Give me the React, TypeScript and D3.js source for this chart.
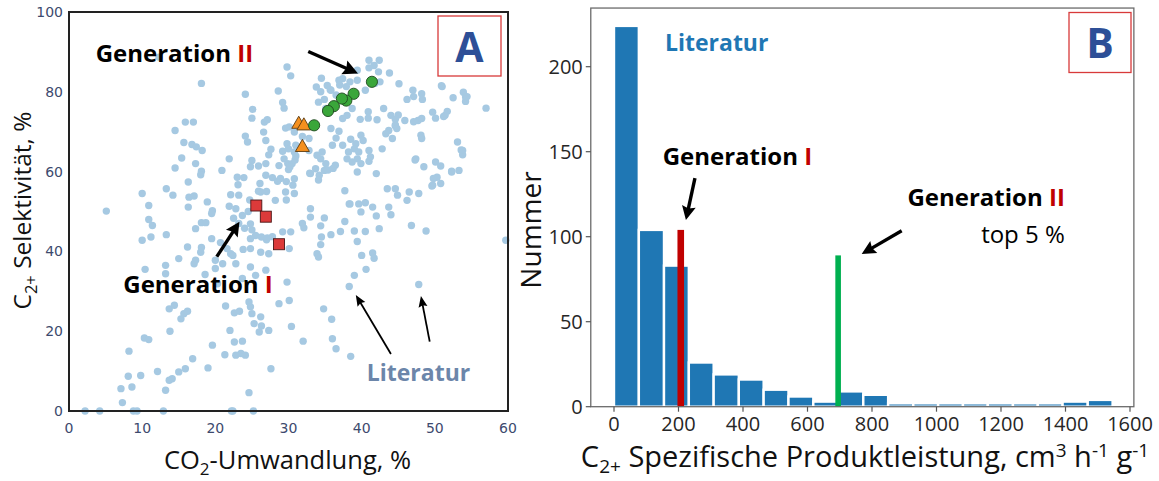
import React from "react";
import * as d3 from "d3";

// ---------------- Panel A data ----------------
const litPoints: [number, number][] = [
  [18.1,82.1],[24.1,79.4],[28.6,80.2],[25.1,75.6],[25.0,73.4],[26.7,72.4],[27.1,73.0],[29.2,77.3],[29.4,75.9],[29.8,86.2],
  [15.9,72.4],[17.0,72.4],[14.5,70.3],[24.1,68.9],[24.4,67.4],[26.6,69.9],[26.9,67.8],[15.7,67.3],[16.8,66.8],[17.4,66.2],
  [18.2,65.3],[15.4,63.4],[17.3,62.0],[18.1,60.1],[18.0,59.2],[14.5,60.9],[20.9,60.3],[21.9,63.2],[25.0,62.8],[24.8,61.2],
  [25.9,61.4],[26.9,62.0],[27.6,65.6],[27.3,64.2],[29.2,65.1],[29.4,63.2],[28.7,61.5],[23.0,58.6],[23.9,58.5],[23.1,56.7],
  [26.1,57.0],[27.8,58.5],[28.5,57.6],[28.9,58.3],[16.3,57.4],[13.3,55.7],[14.2,54.1],[10.0,54.5],[10.9,51.5],[16.4,53.6],
  [17.1,53.9],[18.9,52.4],[22.1,54.2],[23.2,54.1],[26.2,54.9],[28.2,52.8],[29.6,54.9],[16.3,51.1],[19.6,50.2],[21.9,51.3],
  [22.8,50.7],[5.1,50.1],[12.3,88.7],[29.6,70.9],[29.8,67.0],[30.0,65.7],[29.9,62.0],[30.0,60.5],
  [41.0,87.9],[42.4,87.9],[41.7,86.6],[41.0,86.0],[42.3,85.0],[39.4,85.4],[43.8,84.7],[45.1,82.0],[39.4,82.9],[37.4,83.3],
  [36.9,82.9],[40.5,80.4],[33.8,81.2],[34.4,80.0],[35.3,81.6],[35.8,80.4],[36.5,79.2],[34.1,77.4],[34.9,78.1],[35.1,75.8],
  [47.0,80.4],[48.2,79.5],[48.3,78.1],[46.2,78.1],[50.9,81.5],[52.5,78.5],[53.9,79.9],[54.2,78.7],[54.2,77.6],[57.0,75.9],
  [40.9,75.0],[40.9,73.4],[42.1,73.0],[43.0,75.8],[44.0,74.1],[44.6,73.1],[45.9,72.8],[47.7,72.8],[48.2,73.3],[49.7,74.9],
  [50.1,73.4],[51.4,74.1],[51.7,75.1],[39.8,73.1],[38.0,74.1],[38.7,75.8],[37.4,73.3],[36.9,70.1],[35.8,70.8],[36.5,68.4],
  [38.5,68.1],[39.9,69.1],[40.2,67.8],[43.3,69.5],[43.7,70.3],[44.6,71.7],[44.2,68.3],[48.1,69.1],[48.2,68.3],[53.1,67.4],
  [53.8,65.3],[53.8,64.2],[39.2,67.0],[39.0,65.7],[38.2,64.9],[39.6,64.9],[41.0,65.3],[42.8,65.7],[38.0,63.2],[39.4,63.2],
  [39.9,62.0],[41.0,62.6],[41.2,63.7],[38.7,62.4],[36.0,66.6],[34.6,64.9],[33.9,64.1],[34.4,63.2],[31.0,63.9],[30.5,62.0],
  [33.7,60.7],[33.0,59.5],[34.2,59.1],[34.9,60.3],[35.1,62.0],[36.4,61.6],[42.0,59.5],[39.4,59.9],[47.4,63.2],[48.5,61.2],
  [50.1,62.4],[50.8,61.4],[52.3,60.1],[53.3,60.3],[50.3,58.6],[49.7,56.6],[50.8,57.0],[43.5,55.7],[44.6,55.7],[44.9,54.1],
  [46.5,54.9],[47.8,54.5],[46.2,52.8],[43.7,51.1],[38.3,51.9],[39.6,51.9],[40.5,52.2],[41.5,51.1],[33.0,50.7],[30.8,54.5],
  [30.8,58.2],[30.3,84.0],[37.4,66.6],[30.1,71.2],[30.8,69.9],[32.8,68.3],[31.9,68.8],[31.0,66.6],[30.8,64.9],[32.8,65.3],
  [37.7,55.2],[38.4,51.9],
  [26.9,59.1],[29.7,57.5],[30.2,61.2],[30.9,62.9],[30.6,56.6],[29.7,52.9],[32.9,59.6],[34.1,57.9],[35.4,60.4],[36.1,60.8],
  [27.0,55.0],[25.9,55.1],[24.7,52.9],[24.5,50.0],[22.5,48.3],[23.2,47.0],[24.0,45.8],[25.0,45.4],[27.8,43.7],[27.0,42.9],
  [37.0,81.7],[38.4,82.5],[34.5,83.4],[35.7,80.5],[37.9,81.3],[41.8,82.1],[42.5,82.5],[45.0,74.2],[44.6,71.4],[44.8,70.8],
  [47.1,72.5],[51.2,73.8],[47.3,62.9],[49.8,58.3],[49.6,56.4],[52.3,59.9],[53.6,65.4],[47.1,78.8],[51.0,81.3],[54.4,78.8],
  [10.9,48.0],[11.4,46.5],[10.0,42.8],[11.2,43.6],[13.3,44.2],[17.3,45.7],[18.1,47.2],[18.7,47.2],[19.5,49.5],[16.2,41.1],
  [18.1,41.0],[18.0,39.8],[19.5,43.2],[20.7,42.2],[21.6,40.7],[22.1,39.4],[22.4,39.0],[23.8,40.5],[24.8,43.2],[25.5,44.0],
  [26.3,43.6],[27.1,43.4],[24.8,40.7],[26.2,39.8],[27.3,39.4],[15.0,38.2],[17.3,37.8],[17.1,36.9],[13.2,36.5],[13.2,34.4],
  [10.4,35.5],[20.0,37.8],[21.0,36.9],[20.0,35.7],[22.8,36.9],[24.8,36.1],[26.9,35.3],[18.6,34.2],[20.3,31.9],[23.7,33.2],
  [25.5,34.0],[29.8,32.3],[21.4,26.3],[22.6,24.6],[23.3,25.0],[24.6,27.3],[24.8,26.1],[25.0,24.4],[26.2,23.6],[25.3,21.9],
  [26.3,21.3],[26.0,19.8],[27.3,20.2],[28.7,26.9],[13.7,25.6],[14.4,26.5],[15.3,23.1],[15.7,24.4],[16.2,25.0],[13.8,20.0],
  [10.3,18.3],[10.9,17.9],[8.2,15.0],[19.6,16.5],[22.0,20.2],[22.6,17.3],[23.7,17.5],[21.3,14.1],[22.8,14.0],[23.5,14.4],
  [24.1,14.0],[16.9,13.1],[15.9,10.6],[19.0,10.8],[15.0,9.8],[14.1,8.1],[13.7,7.7],[12.1,9.9],[9.8,8.9],[8.1,8.7],
  [8.6,6.0],[7.1,5.6],[7.3,2.1],[13.2,5.2],[24.6,4.6],[27.6,10.6],[23.7,49.0],[24.8,46.9],[29.2,44.9],
  [2.2,0],[4.2,0],[8.8,0],[9.3,0],[12.9,0],[22.2,0],[22.4,0],[25.2,0],
  [33.0,48.6],[31.9,47.0],[32.1,45.9],[34.9,48.4],[34.4,46.4],[37.7,47.5],[39.9,49.9],[42.0,48.9],[44.0,49.2],[39.0,45.1],
  [40.5,45.0],[37.1,45.0],[35.8,44.2],[34.5,43.6],[42.4,45.7],[46.8,46.5],[48.8,45.1],[39.4,42.5],[34.4,41.7],[30.3,44.9],
  [30.1,40.7],[33.9,39.4],[34.1,38.6],[40.0,39.0],[41.5,39.6],[41.7,38.3],[40.6,35.5],[39.0,34.0],[38.3,31.2],[47.8,31.7],
  [34.8,25.6],[35.9,23.0],[30.4,21.2],[32.0,17.5],[36.0,18.1],[36.5,15.6],[38.5,13.7],[59.7,42.8],[30.1,27.7]
];
const gen2Points: [number, number][] = [
  [41.4,82.5],[38.9,79.5],[37.9,77.8],[37.3,78.3],[36.2,76.4],[35.4,75.2],[33.5,71.6]
];
const triPoints: [number, number][] = [[31.4,72.0],[32.1,71.6],[31.9,66.2]];
const gen1Points: [number, number][] = [[25.6,51.5],[26.9,48.7],[28.7,41.8]];
const xTicksA = [0, 10, 20, 30, 40, 50, 60];
const yTicksA = [0, 20, 40, 60, 80, 100];

// ---------------- Panel B data ----------------
const binEdges = [0,77,155,232,309,387,464,541,618,696,773,850,928,1005,1082,1159,1237,1314,1391,1469,1546];
const binCounts = [224,104,83,26,19,16,10,6,3,9,7,2,2,2,2,2,2,2,3,4];
const gen1Value = 207, gen1Height = 104;
const gen2Value = 695, gen2Height = 89;
const xTicksB = [0,200,400,600,800,1000,1200,1400,1600];
const yTicksB = [0,50,100,150,200];

const FONT = "'Open Sans', 'Noto Sans', sans-serif";

function Arrow({ x1, y1, x2, y2, w, hl, hw, color = "#000" }:
  { x1: number; y1: number; x2: number; y2: number; w: number; hl: number; hw: number; color?: string }) {
  const dx = x2 - x1, dy = y2 - y1;
  const L = Math.hypot(dx, dy);
  const ux = dx / L, uy = dy / L;
  const bx = x2 - ux * hl, by = y2 - uy * hl;
  const px = -uy, py = ux;
  const pts = [
    [x2, y2],
    [bx + px * hw / 2, by + py * hw / 2],
    [bx + ux * hl * 0.15, by + uy * hl * 0.15],
    [bx - px * hw / 2, by - py * hw / 2],
  ];
  return (
    <g>
      <line x1={x1} y1={y1} x2={bx + ux * hl * 0.3} y2={by + uy * hl * 0.3} stroke={color} strokeWidth={w} />
      <polygon points={pts.map(p => p.join(",")).join(" ")} fill={color} />
    </g>
  );
}

export default function App() {
  // Panel A scales
  const xA = d3.scaleLinear().domain([0, 60]).range([69, 508]);
  const yA = d3.scaleLinear().domain([0, 100]).range([411, 12]);
  // Panel B scales
  const xB = d3.scaleLinear().domain([0, 1600]).range([614, 1130]);
  const yB = d3.scaleLinear().domain([0, 200]).range([406.7, 66.7]);
  const bLeft = xB(-72), bRight = xB(1612), bTop = yB(234.5), bBottom = yB(0);

  const tri = (cx: number, cy: number, s: number) => {
    const h = s * 0.866;
    return `${cx},${cy - h * 0.62} ${cx - s / 2},${cy + h * 0.38} ${cx + s / 2},${cy + h * 0.38}`;
  };

  return (
    <svg width={1159} height={481} style={{ position: "absolute", left: 0, top: 0, background: "#fff" }} fontFamily={FONT}>
      <rect x={0} y={0} width={1159} height={481} fill="#fff" />
      {/* ================= Panel A ================= */}
      <g>
        {litPoints.map((p, i) => (
          <circle key={"l" + i} cx={xA(p[0])} cy={yA(p[1])} r={3.7} fill="#a6c9e2" />
        ))}
        {gen1Points.map((p, i) => (
          <rect key={"s" + i} x={xA(p[0]) - 5.5} y={yA(p[1]) - 5.5} width={11} height={11} fill="#dc3a3a" stroke="#4a1515" strokeWidth={0.9} />
        ))}
        {triPoints.map((p, i) => (
          <polygon key={"t" + i} points={tri(xA(p[0]), yA(p[1]), 14)} fill="#f5901e" stroke="#5a3a10" strokeWidth={0.9} />
        ))}
        {gen2Points.map((p, i) => (
          <circle key={"g" + i} cx={xA(p[0])} cy={yA(p[1])} r={5.6} fill="#3aa63a" stroke="#1f4a1f" strokeWidth={0.9} />
        ))}
        <rect x={xA(0)} y={yA(100)} width={xA(60) - xA(0)} height={yA(0) - yA(100)} fill="none" stroke="#222" strokeWidth={2} />
        {xTicksA.map(t => (
          <text key={"xa" + t} x={xA(t)} y={433} textAnchor="middle" fontFamily="'DejaVu Sans', sans-serif" fontSize={14} fill="#3d4a6e">{t}</text>
        ))}
        {yTicksA.map(t => (
          <text key={"ya" + t} x={63} y={yA(t) + 5} textAnchor="end" fontFamily="'DejaVu Sans', sans-serif" fontSize={14} fill="#3d4a6e">{t}</text>
        ))}
        <text x={xA(30) - 1} y={469} textAnchor="middle" fontSize={25.5} fill="#111">
          CO<tspan fontSize={17} dy={6}>2</tspan><tspan dy={-6}>-Umwandlung, %</tspan>
        </text>
        <text transform={`translate(31,${yA(50) - 1}) rotate(-90)`} textAnchor="middle" fontSize={24.5} fill="#111">
          C<tspan fontSize={16.5} dy={6}>2+</tspan><tspan dy={-6}> Selektivität, %</tspan>
        </text>
        {/* A label box */}
        <rect x={438} y={16} width={63} height={60} fill="none" stroke="#d83a3a" strokeWidth={1.3} />
        <text x={469.5} y={62} textAnchor="middle" fontSize={41} fontWeight={700} fill="#2d4f97">A</text>
        {/* annotations */}
        <text x={xA(3.65)} y={yA(87.5)} fontSize={24} fontWeight={700} fill="#000">Generation <tspan fill="#c00000">II</tspan></text>
        <text x={xA(7.42)} y={yA(29.5)} fontSize={24} fontWeight={700} fill="#000">Generation <tspan fill="#c00000">I</tspan></text>
        <text x={xA(40.7)} y={yA(7.5)} fontSize={23} fontWeight={700} fill="#6c86aa">Literatur</text>
        <Arrow x1={xA(32.7)} y1={yA(90.1)} x2={xA(39.5)} y2={yA(84.6)} w={3.4} hl={15} hw={15} />
        <Arrow x1={xA(20.2)} y1={yA(38.7)} x2={xA(23.3)} y2={yA(47.4)} w={3.4} hl={14} hw={14} />
        <Arrow x1={xA(44.0)} y1={yA(14.3)} x2={xA(39.2)} y2={yA(29.1)} w={1.8} hl={11} hw={9} />
        <Arrow x1={xA(49.3)} y1={yA(17.4)} x2={xA(48.1)} y2={yA(28.8)} w={1.8} hl={11} hw={9} />
      </g>

      {/* ================= Panel B ================= */}
      <g>
        {binCounts.map((c, i) => (
          <rect key={"b" + i} x={xB(binEdges[i])} y={yB(c)} width={xB(binEdges[i + 1]) - xB(binEdges[i])} height={yB(0) - yB(c)}
            fill="#1f77b4" stroke="#fff" strokeWidth={2.4} />
        ))}
        <rect x={xB(gen1Value) - 3.3} y={yB(gen1Height)} width={6.6} height={yB(0) - yB(gen1Height)} fill="#c00000" />
        <rect x={xB(gen2Value) - 2.8} y={yB(gen2Height)} width={5.6} height={yB(0) - yB(gen2Height)} fill="#00b050" />
        <rect x={bLeft} y={bTop} width={bRight - bLeft} height={bBottom - bTop} fill="none" stroke="#6b6b6b" strokeWidth={1.3} />
        {xTicksB.map(t => (
          <g key={"xb" + t}>
            <line x1={xB(t)} x2={xB(t)} y1={bBottom} y2={bBottom + 5} stroke="#555" strokeWidth={1.2} />
            <text x={xB(t)} y={bBottom + 24} textAnchor="middle" fontSize={20} fill="#262626">{t}</text>
          </g>
        ))}
        {yTicksB.map(t => (
          <g key={"yb" + t}>
            <line x1={bLeft - 5} x2={bLeft} y1={yB(t)} y2={yB(t)} stroke="#555" strokeWidth={1.2} />
            <text x={bLeft - 8} y={yB(t) + 7} textAnchor="end" fontSize={20} fill="#262626">{t}</text>
          </g>
        ))}
        <text x={865} y={467} textAnchor="middle" fontSize={29} fill="#111">
          C<tspan fontSize={19} dy={6}>2+</tspan><tspan dy={-6}> Spezifische Produktleistung, cm</tspan><tspan fontSize={19} dy={-10}>3</tspan><tspan dy={10}> h</tspan><tspan fontSize={19} dy={-10}>-1</tspan><tspan dy={10}> g</tspan><tspan fontSize={19} dy={-10}>-1</tspan>
        </text>
        <text transform={`translate(541,230) rotate(-90)`} textAnchor="middle" fontSize={28} fill="#111">Nummer</text>
        {/* B label box */}
        <rect x={1069} y={12.5} width={62} height={60} fill="none" stroke="#d83a3a" strokeWidth={1.3} />
        <text x={1100} y={58} textAnchor="middle" fontSize={41} fontWeight={700} fill="#2d4f97">B</text>
        <text x={xB(158)} y={yB(209.4)} fontSize={23} fontWeight={700} fill="#1f77b4">Literatur</text>
        <text x={xB(151)} y={yB(142.2)} fontSize={24} fontWeight={700} fill="#000">Generation <tspan fill="#c00000">I</tspan></text>
        <text x={xB(1398)} y={yB(118.1)} textAnchor="end" fontSize={24} fontWeight={700} fill="#000">Generation <tspan fill="#c00000">II</tspan></text>
        <text x={xB(1398)} y={yB(96.5)} textAnchor="end" fontSize={24} fill="#000">top 5 %</text>
        <Arrow x1={xB(251)} y1={yB(134.4)} x2={xB(223)} y2={yB(109.8)} w={3.4} hl={14} hw={14} />
        <Arrow x1={xB(892)} y1={yB(103.5)} x2={xB(768)} y2={yB(89.8)} w={3.4} hl={14} hw={14} />
      </g>
    </svg>
  );
}
